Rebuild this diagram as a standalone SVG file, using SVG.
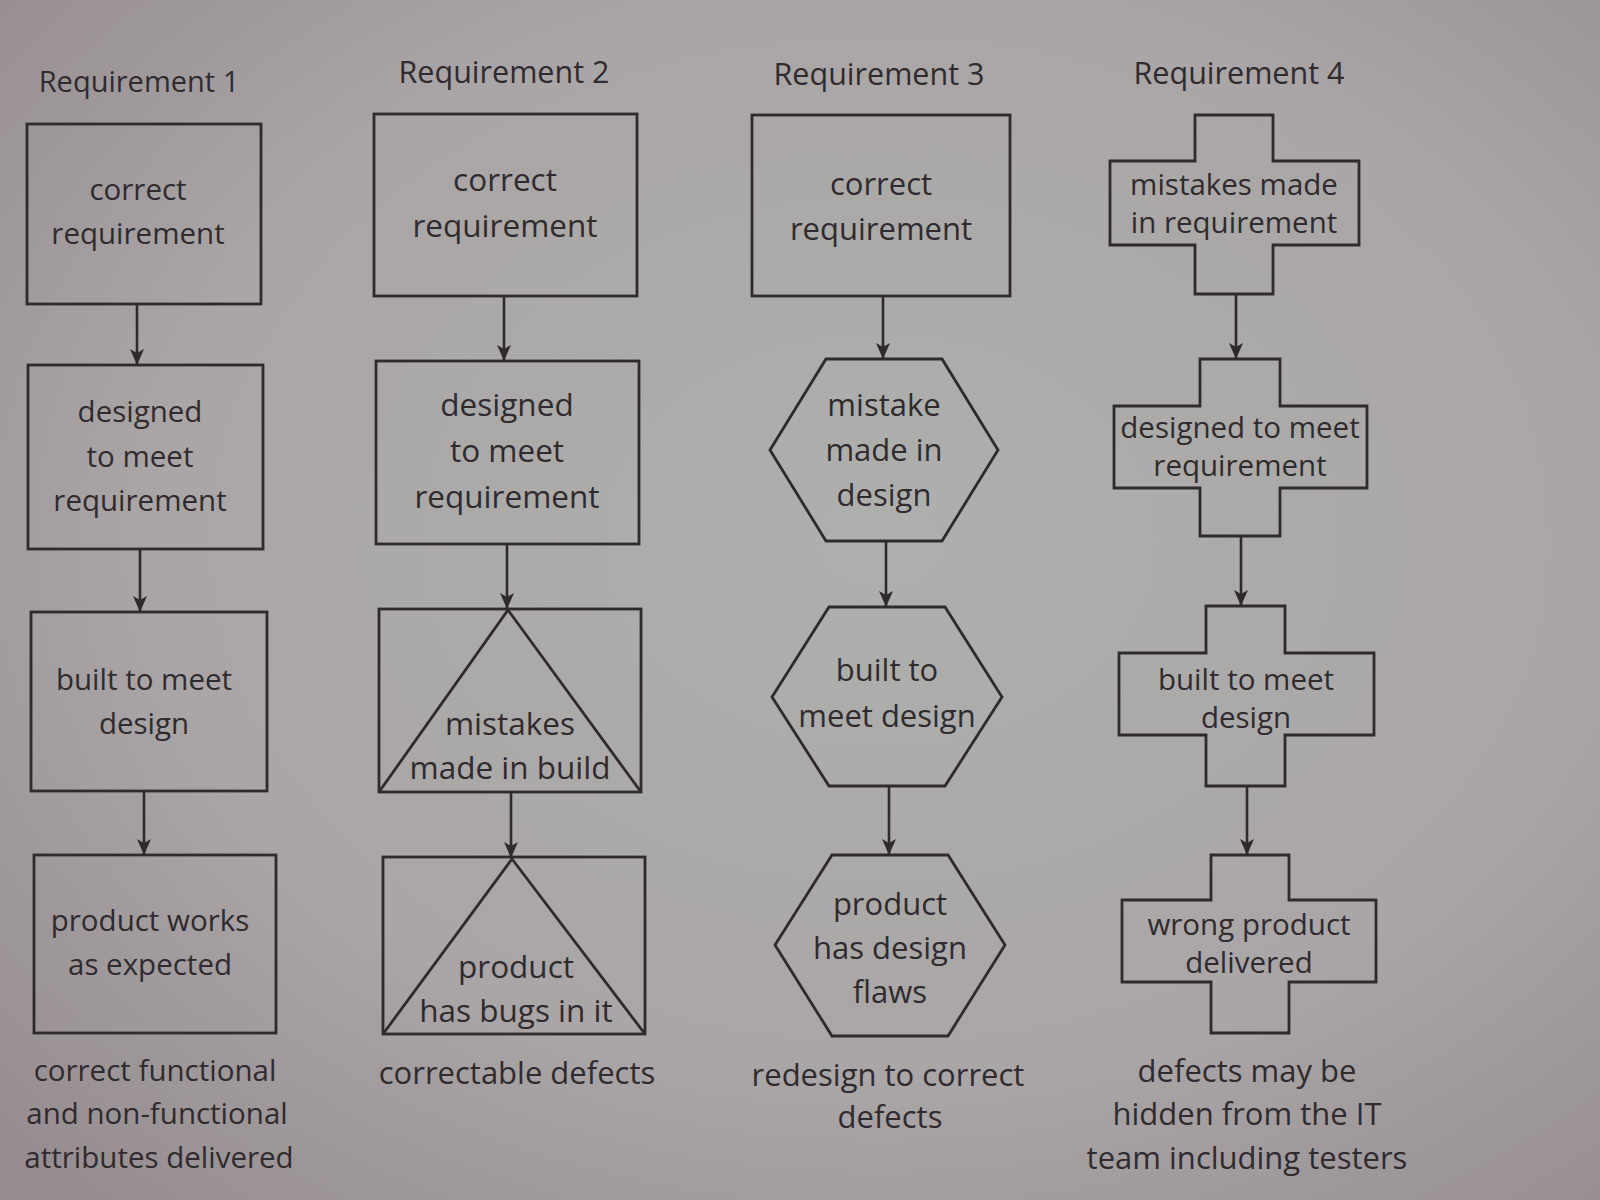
<svg xmlns="http://www.w3.org/2000/svg" width="1600" height="1200" viewBox="0 0 1600 1200">
<defs>
<radialGradient id="bg" cx="55%" cy="45%" r="75%">
<stop offset="0" stop-color="#aeb0ad"/>
<stop offset="0.6" stop-color="#aaa5a6"/>
<stop offset="1" stop-color="#958c90"/>
</radialGradient>
<marker id="arr" viewBox="0 0 16 14" refX="15" refY="7" markerWidth="16" markerHeight="14" markerUnits="userSpaceOnUse" orient="auto">
<path d="M0,0 L16,7 L0,14 L4,7 z" fill="#2e2a2d"/>
</marker>
<style>
.shape{fill:none;stroke:#2e2a2d;stroke-width:2.8;stroke-linejoin:miter}
.lbl{font-family:"Open Sans","Noto Sans","Liberation Sans",sans-serif;font-size:30px;fill:#2f2b2e;text-anchor:middle}
.c1{font-size:29.5px}
.c2{font-size:31.5px}
.c3{font-size:31px}
.c4{font-size:29.5px}
.cap{font-size:31px}
.ttl{font-family:"Open Sans","Noto Sans","Liberation Sans",sans-serif;font-size:30.5px;fill:#2f2b2e;text-anchor:middle}
.conn{stroke:#2e2a2d;stroke-width:2.6;fill:none}
</style>
</defs>
<rect x="0" y="0" width="1600" height="1200" fill="url(#bg)"/>

<!-- column titles -->
<g id="titles">
<text class="ttl" x="139" y="92" style="font-size:29px">Requirement 1</text>
<text class="ttl" x="504" y="83">Requirement 2</text>
<text class="ttl" x="879" y="85">Requirement 3</text>
<text class="ttl" x="1239" y="84">Requirement 4</text>
</g>

<!-- Requirement 1 -->
<g id="r1n1"><rect class="shape" x="27" y="124" width="234" height="180"/>
<text class="lbl c1" x="138" y="200">correct</text><text class="lbl c1" x="138" y="244">requirement</text></g>
<g id="r1n2"><rect class="shape" x="28" y="365" width="235" height="184"/>
<text class="lbl c1" x="140" y="422">designed</text><text class="lbl c1" x="140" y="467">to meet</text><text class="lbl c1" x="140" y="511">requirement</text></g>
<g id="r1n3"><rect class="shape" x="31" y="612" width="236" height="179"/>
<text class="lbl c1" x="144" y="690">built to meet</text><text class="lbl c1" x="144" y="734">design</text></g>
<g id="r1n4"><rect class="shape" x="34" y="855" width="242" height="178"/>
<text class="lbl c1" x="150" y="931">product works</text><text class="lbl c1" x="150" y="975">as expected</text></g>
<g id="r1cap">
<text class="lbl c1" x="155" y="1081">correct functional</text>
<text class="lbl c1" x="157" y="1124">and non-functional</text>
<text class="lbl c1" x="159" y="1168">attributes delivered</text>
</g>

<!-- Requirement 2 -->
<g id="r2n1"><rect class="shape" x="374" y="114" width="263" height="182"/>
<text class="lbl c2" x="505" y="191">correct</text><text class="lbl c2" x="505" y="237">requirement</text></g>
<g id="r2n2"><rect class="shape" x="376" y="361" width="263" height="183"/>
<text class="lbl c2" x="507" y="416">designed</text><text class="lbl c2" x="507" y="462">to meet</text><text class="lbl c2" x="507" y="508">requirement</text></g>
<g id="r2n3"><rect class="shape" x="379" y="609" width="262" height="183"/>
<path class="shape" d="M379,792 L508,610 L641,792"/>
<text class="lbl c2" x="510" y="735">mistakes</text><text class="lbl c2" x="510" y="779">made in build</text></g>
<g id="r2n4"><rect class="shape" x="383" y="857" width="262" height="177"/>
<path class="shape" d="M383,1034 L512,859 L645,1034"/>
<text class="lbl c2" x="516" y="978">product</text><text class="lbl c2" x="516" y="1022">has bugs in it</text></g>
<g id="r2cap"><text class="lbl cap" x="517" y="1084">correctable defects</text></g>

<!-- Requirement 3 -->
<g id="r3n1"><rect class="shape" x="752" y="115" width="258" height="181"/>
<text class="lbl c3" x="881" y="195">correct</text><text class="lbl c3" x="881" y="240">requirement</text></g>
<g id="r3n2"><polygon class="shape" points="770,450 826,359 942,359 998,450 942,541 826,541"/>
<text class="lbl c3" x="884" y="416">mistake</text><text class="lbl c3" x="884" y="461">made in</text><text class="lbl c3" x="884" y="506">design</text></g>
<g id="r3n3"><polygon class="shape" points="772,697 829,607 945,607 1002,697 945,786 829,786"/>
<text class="lbl c3" x="887" y="681">built to</text><text class="lbl c3" x="887" y="727">meet design</text></g>
<g id="r3n4"><polygon class="shape" points="775,945 832,855 948,855 1005,945 948,1036 832,1036"/>
<text class="lbl c3" x="890" y="915">product</text><text class="lbl c3" x="890" y="959">has design</text><text class="lbl c3" x="890" y="1003">flaws</text></g>
<g id="r3cap"><text class="lbl cap" x="888" y="1086">redesign to correct</text><text class="lbl cap" x="890" y="1128">defects</text></g>

<!-- Requirement 4 -->
<g id="r4n1"><polygon class="shape" points="1195,115 1273,115 1273,161 1359,161 1359,245 1273,245 1273,294 1195,294 1195,245 1110,245 1110,161 1195,161"/>
<text class="lbl c4" x="1234" y="195">mistakes made</text><text class="lbl c4" x="1234" y="233">in requirement</text></g>
<g id="r4n2"><polygon class="shape" points="1200,359 1280,359 1280,406 1367,406 1367,488 1280,488 1280,536 1200,536 1200,488 1114,488 1114,406 1200,406"/>
<text class="lbl c4" x="1240" y="438">designed to meet</text><text class="lbl c4" x="1240" y="476">requirement</text></g>
<g id="r4n3"><polygon class="shape" points="1206,606 1285,606 1285,653 1374,653 1374,735 1285,735 1285,786 1206,786 1206,735 1119,735 1119,653 1206,653"/>
<text class="lbl c4" x="1246" y="690">built to meet</text><text class="lbl c4" x="1246" y="728">design</text></g>
<g id="r4n4"><polygon class="shape" points="1211,855 1289,855 1289,900 1376,900 1376,982 1289,982 1289,1033 1211,1033 1211,982 1122,982 1122,900 1211,900"/>
<text class="lbl c4" x="1249" y="935">wrong product</text><text class="lbl c4" x="1249" y="973">delivered</text></g>
<g id="r4cap">
<text class="lbl cap" x="1247" y="1082">defects may be</text>
<text class="lbl cap" x="1247" y="1125">hidden from the IT</text>
<text class="lbl cap" x="1247" y="1169">team including testers</text>
</g>

<!-- connectors -->
<g id="connectors">
<line class="conn" x1="137" y1="304" x2="137" y2="364" marker-end="url(#arr)"/>
<line class="conn" x1="140" y1="549" x2="140" y2="611" marker-end="url(#arr)"/>
<line class="conn" x1="144" y1="791" x2="144" y2="854" marker-end="url(#arr)"/>
<line class="conn" x1="504" y1="296" x2="504" y2="360" marker-end="url(#arr)"/>
<line class="conn" x1="507" y1="544" x2="507" y2="608" marker-end="url(#arr)"/>
<line class="conn" x1="511" y1="792" x2="511" y2="857" marker-end="url(#arr)"/>
<line class="conn" x1="883" y1="296" x2="883" y2="358" marker-end="url(#arr)"/>
<line class="conn" x1="886" y1="541" x2="886" y2="606" marker-end="url(#arr)"/>
<line class="conn" x1="889" y1="786" x2="889" y2="854" marker-end="url(#arr)"/>
<line class="conn" x1="1236" y1="294" x2="1236" y2="358" marker-end="url(#arr)"/>
<line class="conn" x1="1241" y1="536" x2="1241" y2="605" marker-end="url(#arr)"/>
<line class="conn" x1="1247" y1="786" x2="1247" y2="854" marker-end="url(#arr)"/>
</g>
</svg>
